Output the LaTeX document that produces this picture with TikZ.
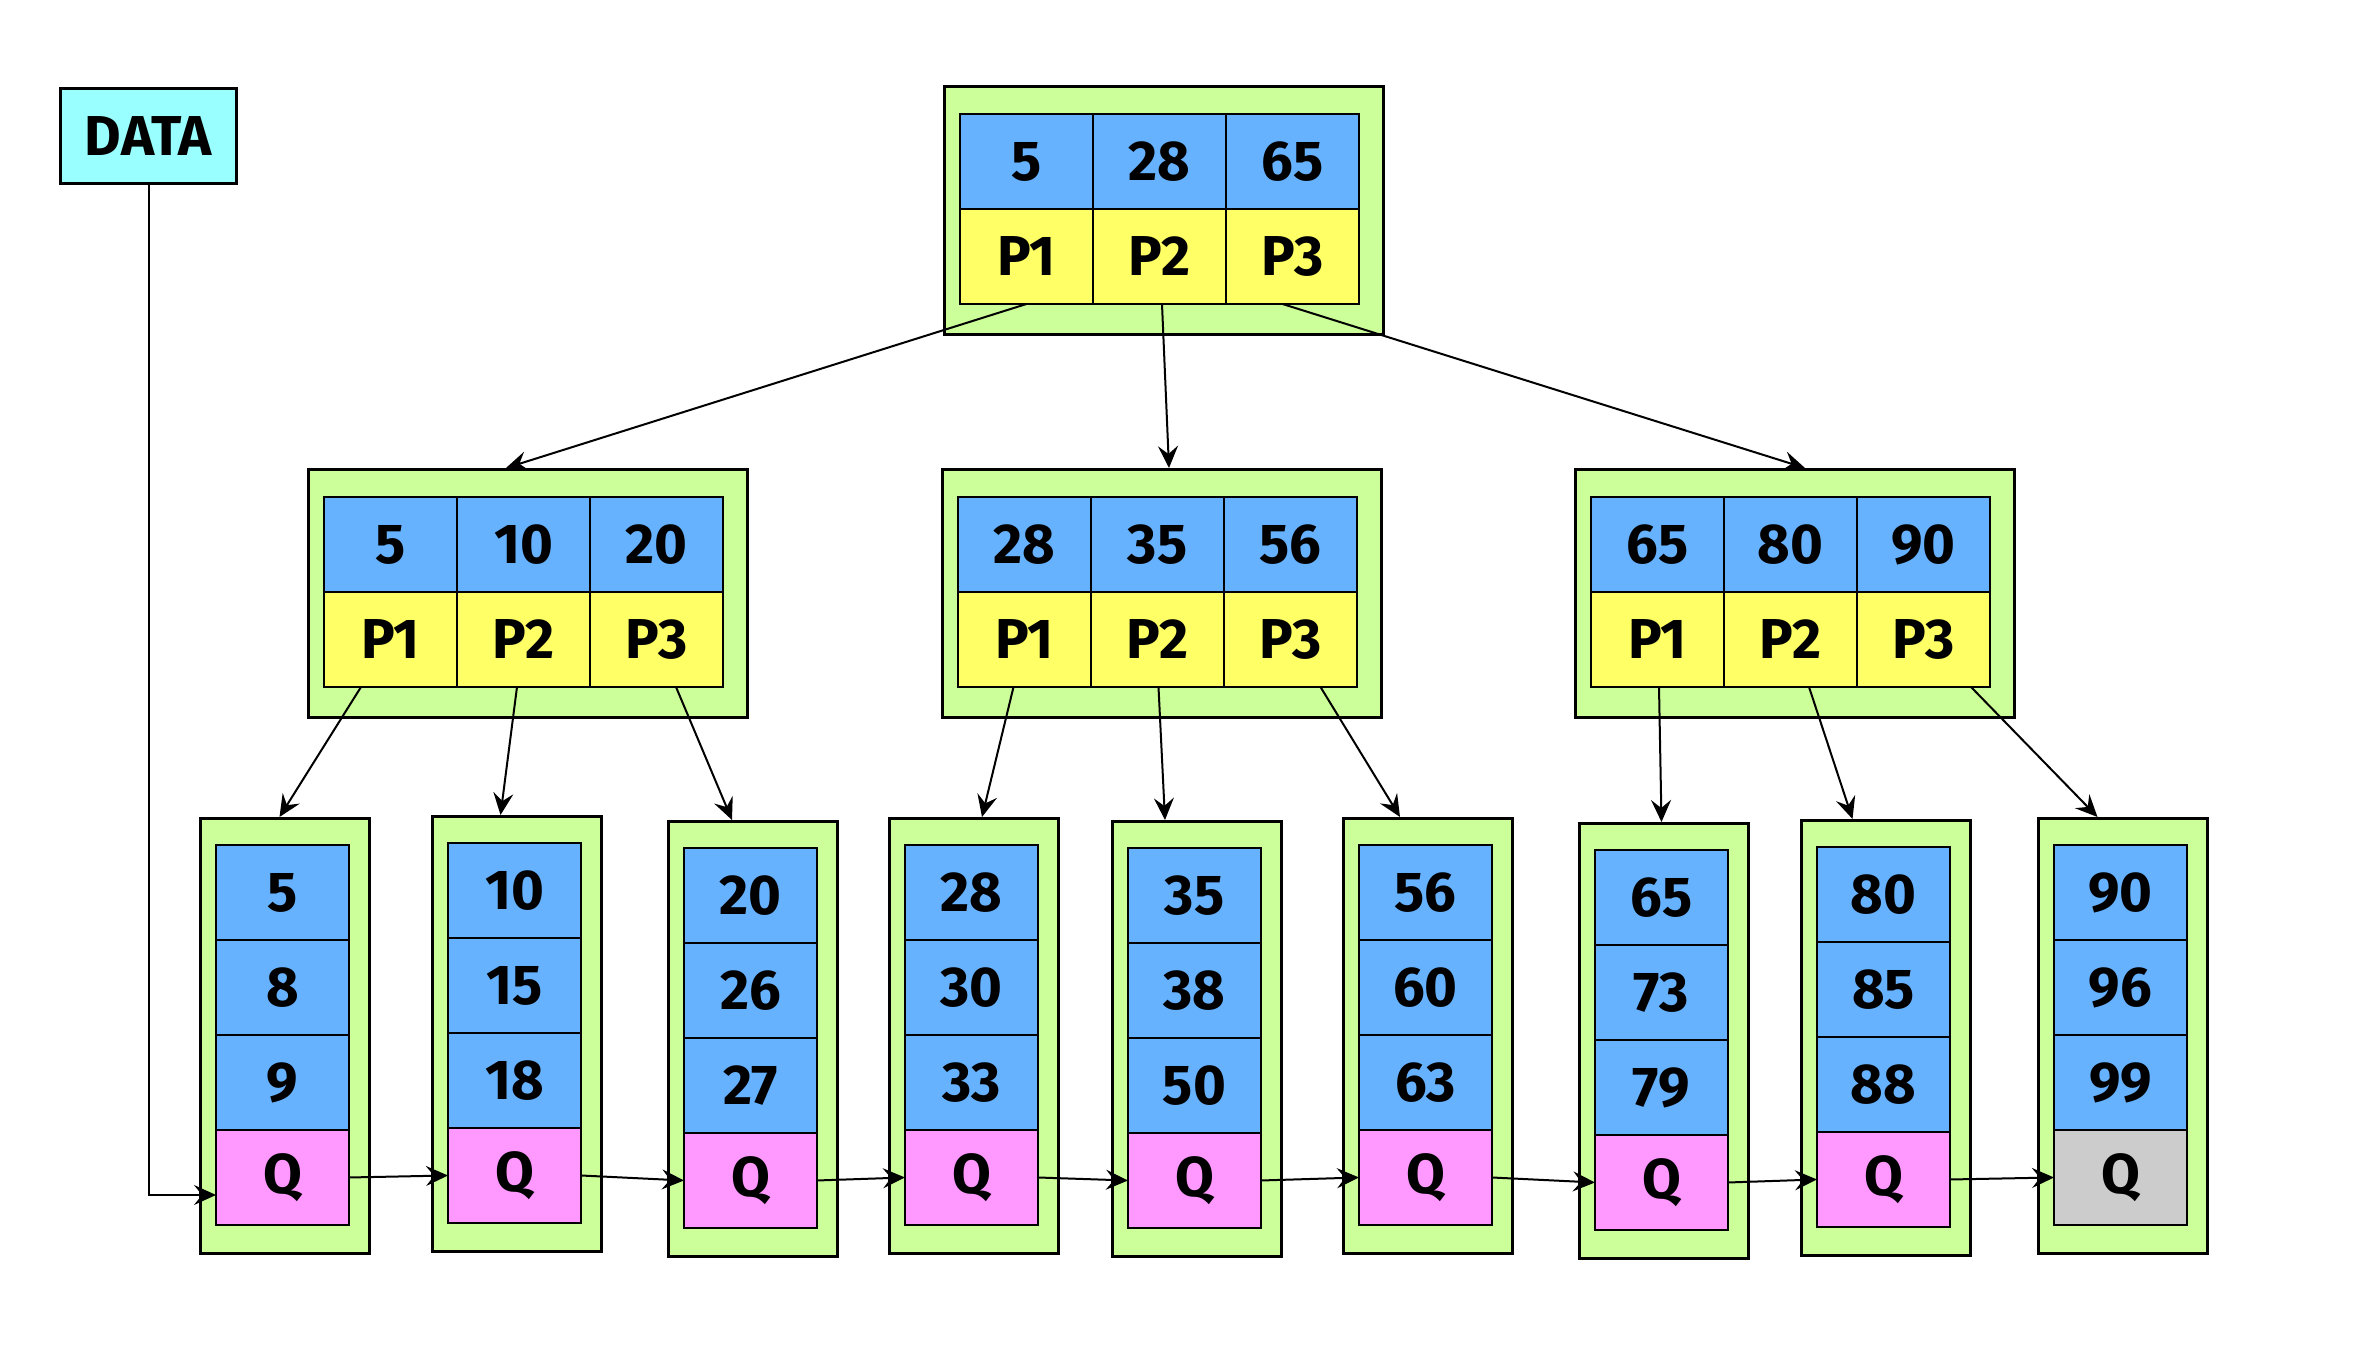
\documentclass[tikz,border=0pt]{standalone}
\usepackage{fontspec}
\setmainfont{Fira Sans}
\usetikzlibrary{arrows.meta,positioning}
\definecolor{btgreen}{RGB}{204,255,153}
\definecolor{btblue}{RGB}{102,178,255}
\definecolor{btyellow}{RGB}{255,255,102}
\definecolor{btpink}{RGB}{255,153,255}
\definecolor{btgray}{RGB}{204,204,204}
\definecolor{btcyan}{RGB}{153,255,255}

\begin{document}
\begin{tikzpicture}[x=0.1mm, y=-0.1mm,
  frame/.style={draw, fill=btgreen, line width=0.3mm, anchor=north west},
  cell/.style={draw, line width=0.25mm, outer sep=0pt, inner sep=0pt,
               minimum width=13.3mm, minimum height=9.5mm,
               font=\fontsize{16}{19}\selectfont\bfseries},
  key/.style={cell, fill=btblue},
  ptr/.style={cell, fill=btyellow},
  nxt/.style={cell, fill=btpink},
  arr/.style={-{Stealth[length=2.2mm, width=2mm, inset=0.8mm]}, line width=0.2mm}
]
  \useasboundingbox (0,0) rectangle (2379,1371);

  % entry box
  \node[frame, fill=btcyan, minimum width=17.6mm, minimum height=9.5mm, inner sep=0pt,
        font=\fontsize{16}{19}\selectfont\bfseries] (data) at (59,87) {DATA};

  % root and second level
  \foreach \n/\x/\y/\ka/\kb/\kc in {root/943/85/5/28/65, i1/307/468/5/10/20,
      i2/941/468/28/35/56, i3/1574/468/65/80/90} {
    \node[frame, minimum width=43.9mm, minimum height=24.8mm] (\n) at (\x,\y) {};
    \node[key, anchor=north west] (\n-k1) at ([xshift=1.7mm, yshift=-2.9mm]\n.north west) {\ka};
    \node[key, right=0pt of \n-k1] (\n-k2) {\kb};
    \node[key, right=0pt of \n-k2] (\n-k3) {\kc};
    \node[ptr, below=0pt of \n-k1] (\n-p1) {P1};
    \node[ptr, below=0pt of \n-k2] (\n-p2) {P2};
    \node[ptr, below=0pt of \n-k3] (\n-p3) {P3};
  }

  % leaves
  \foreach \n/\x/\y/\ka/\kb/\kc/\qc in {1/199/817/5/8/9/btpink, 2/431/815/10/15/18/btpink,
      3/667/820/20/26/27/btpink, 4/888/817/28/30/33/btpink, 5/1111/820/35/38/50/btpink,
      6/1342/817/56/60/63/btpink, 7/1578/822/65/73/79/btpink, 8/1800/819/80/85/88/btpink,
      9/2037/817/90/96/99/btgray} {
    \node[frame, minimum width=16.9mm, minimum height=43.5mm] (l\n) at (\x,\y) {};
    \node[key, anchor=north west] (l\n-k1) at ([xshift=1.7mm, yshift=-2.8mm]l\n.north west) {\ka};
    \node[key, below=0pt of l\n-k1] (l\n-k2) {\kb};
    \node[key, below=0pt of l\n-k2] (l\n-k3) {\kc};
    \node[nxt, fill=\qc, below=0pt of l\n-k3] (l\n-q) {Q};
  }

  % root to second level
  \draw[arr] (root-p1.south) -- ([xshift=-2.2mm]i1.north);
  \draw[arr] ([xshift=0.25mm]root-p2.south) -- ([xshift=0.7mm]i2.north);
  \draw[arr] ([xshift=-1mm]root-p3.south) -- ([xshift=1mm]i3.north);

  % second level to leaves
  \draw[arr] ([xshift=-2.95mm]i1-p1.south) -- ([xshift=-0.55mm]l1.north);
  \draw[arr] ([xshift=-0.65mm]i1-p2.south) -- ([xshift=-1.65mm]l2.north);
  \draw[arr] ([xshift=1.95mm]i1-p3.south) -- ([xshift=-2.1mm]l3.north);
  \draw[arr] ([xshift=-1.1mm]i2-p1.south) -- ([xshift=0.8mm]l4.north);
  \draw[arr] ([xshift=0.1mm]i2-p2.south) -- ([xshift=-3.2mm]l5.north);
  \draw[arr] ([xshift=3mm]i2-p3.south) -- ([xshift=-2.8mm]l6.north);
  \draw[arr] ([xshift=0.15mm]i3-p1.south) -- ([xshift=-0.25mm]l7.north);
  \draw[arr] ([xshift=1.85mm]i3-p2.south) -- ([xshift=-3.35mm]l8.north);
  \draw[arr] ([xshift=4.75mm]i3-p3.south) -- ([xshift=-2.55mm]l9.north);

  % leaf chain
  \draw[arr] (data.south) |- ([yshift=-1.75mm]l1-q.west);
  \foreach \a/\b in {1/2, 2/3, 3/4, 4/5, 5/6, 6/7, 7/8, 8/9}
    \draw[arr] (l\a-q.east) -- (l\b-q.west);
\end{tikzpicture}
\end{document}
